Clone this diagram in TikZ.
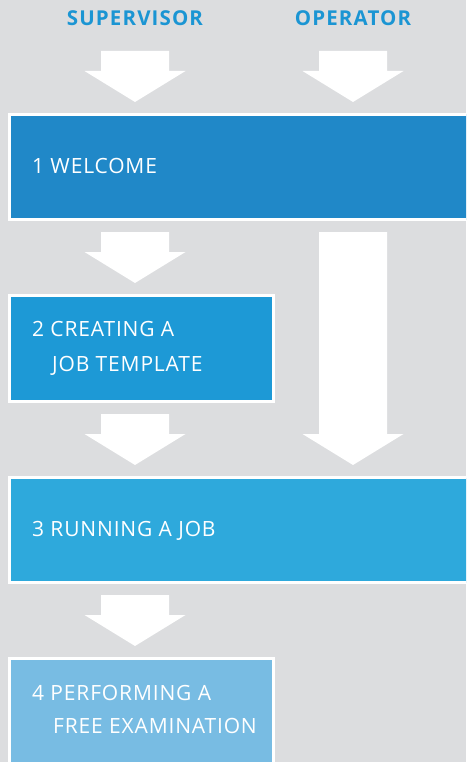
\documentclass[tikz,border=0pt]{standalone}
\usepackage{fontspec}
\setmainfont{Open Sans}
\newfontfamily\labelfont{Open Sans}[LetterSpace=4]
\newfontfamily\headfont{Open Sans}[LetterSpace=5.5]
\usetikzlibrary{calc}

\definecolor{pagebg}{HTML}{DCDDDF}
\definecolor{headblue}{HTML}{1B95D3}
\definecolor{stepone}{HTML}{2088C8}
\definecolor{steptwo}{HTML}{1D99D6}
\definecolor{stepthree}{HTML}{2EA9DC}
\definecolor{stepfour}{HTML}{78BCE3}

\tikzset{
  stagebox/.style={rectangle, draw=white, line width=3pt, inner sep=0pt},
  stagelabel/.style={text=white, font=\labelfont\fontsize{21}{25}\selectfont, inner sep=0pt, anchor=base west},
  rolehead/.style={text=headblue, font=\headfont\bfseries\fontsize{20.5}{24}\selectfont, inner sep=0pt, anchor=base},
  flowfill/.style={fill=white}
}

% broad block arrow from the top of its shaft (#1) to its tip (#2)
\newcommand\flowarrow[2]{%
  \fill[flowfill] ($(#1)+(-34,0)$) -- ($(#1)+(34,0)$) -- ($(#2)+(34,-31)$)
    -- ($(#2)+(50.5,-31)$) -- (#2) -- ($(#2)+(-50.5,-31)$) -- ($(#2)+(-34,-31)$) -- cycle;}

\begin{document}
\begin{tikzpicture}[x=1pt, y=-1pt]
  \useasboundingbox (0,0) rectangle (466,762);
  \clip (0,0) rectangle (466,762);
  \fill[pagebg] (0,0) rectangle (466,762);

  % column headings
  \node[rolehead] (sv) at (135,26) {SUPERVISOR};
  \node[rolehead] (op) at (353,26) {OPERATOR};

  % stages
  \node[stagebox, fill=stepone,   minimum width=480.5, minimum height=105] (b1) at (249.75,167) {};
  \node[stagebox, fill=steptwo,   minimum width=264,   minimum height=106] (b2) at (141.5,348.5) {};
  \node[stagebox, fill=stepthree, minimum width=480.5, minimum height=105] (b3) at (249.75,530) {};
  \node[stagebox, fill=stepfour,  minimum width=264,   minimum height=141.5] (b4) at (141.5,729.25) {};

  % arrow ends
  \coordinate (svs0) at ($(sv.base)+(0,25)$);
  \coordinate (ops0) at ($(op.base)+(0,25)$);
  \coordinate (sve1) at ($(b1.north -| sv)+(0,-11)$);
  \coordinate (ope1) at ($(b1.north -| op)+(0,-11)$);
  \coordinate (svs1) at ($(b1.south -| sv)+(0,11)$);
  \coordinate (sve2) at ($(b2.north -| sv)+(0,-11)$);
  \coordinate (svs2) at ($(b2.south -| sv)+(0,11)$);
  \coordinate (sve3) at ($(b3.north -| sv)+(0,-11)$);
  \coordinate (ops1) at ($(b1.south -| op)+(0,11)$);
  \coordinate (ope3) at ($(b3.north -| op)+(0,-11)$);
  \coordinate (svs3) at ($(b3.south -| sv)+(0,11)$);
  \coordinate (sve4) at ($(b4.north -| sv)+(0,-11)$);

  \flowarrow{svs0}{sve1}
  \flowarrow{ops0}{ope1}
  \flowarrow{svs1}{sve2}
  \flowarrow{svs2}{sve3}
  \flowarrow{ops1}{ope3}
  \flowarrow{svs3}{sve4}

  % stage titles
  \node[stagelabel] (t1)  at (32,173) {1 WELCOME};
  \node[stagelabel] (t2a) at (32,336) {2 CREATING A};
  \node[stagelabel] (t2b) at (52,371) {JOB TEMPLATE};
  \node[stagelabel] (t3)  at (32,536) {3 RUNNING A JOB};
  \node[stagelabel] (t4a) at (32,700) {4 PERFORMING A};
  \node[stagelabel] (t4b) at (53,733) {FREE EXAMINATION};
\end{tikzpicture}
\end{document}
